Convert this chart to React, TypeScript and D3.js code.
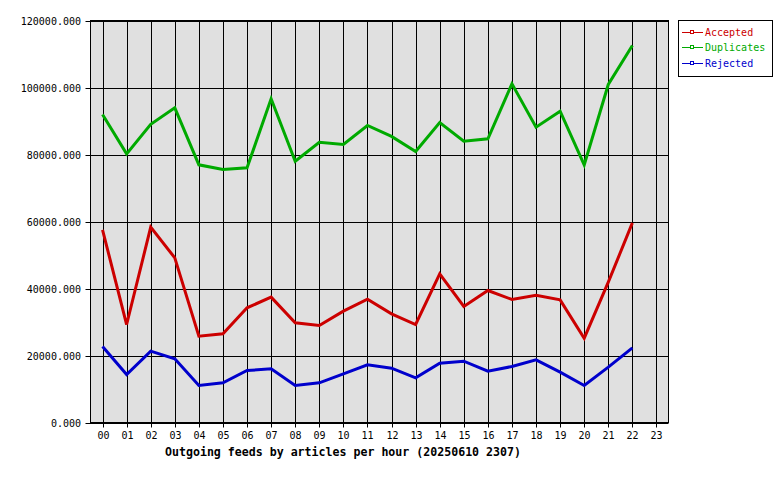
import React from "react";
import * as d3 from "d3";

const hours = ["00","01","02","03","04","05","06","07","08","09","10","11","12","13","14","15","16","17","18","19","20","21","22","23"];
const accepted = [57500, 29250, 58300, 49150, 25770, 26460, 34230, 37410, 29750, 28960, 33230, 36800, 32440, 29250, 44380, 34630, 39400, 36720, 38000, 36600, 25170, 41880, 59600];
const duplicates = [91940, 80200, 89000, 93940, 76920, 75520, 76030, 96620, 78000, 83670, 82990, 88660, 85400, 80900, 89550, 83980, 84680, 101100, 88150, 92920, 76900, 100900, 112540];
const rejected = [22690, 14330, 21290, 19000, 11040, 11840, 15520, 16020, 11040, 11840, 14530, 17210, 16220, 13330, 17710, 18300, 15320, 16720, 18700, 15020, 11040, 16520, 22290];
const yTicks = [0, 20000, 40000, 60000, 80000, 100000, 120000];
const seriesNames = ["Accepted", "Duplicates", "Rejected"];
const seriesColors = ["#cc0000", "#00aa00", "#0000cc"];
const title = "Outgoing feeds by articles per hour (20250610 2307)";

export default function App() {
  const W = 780, H = 480;
  const left = 90.5, right = 668.5, top = 20.5, bottom = 422.5;
  const x = d3.scaleLinear().domain([-0.5, 23.5]).range([left, right]);
  const y = d3.scaleLinear().domain([0, 120000]).range([bottom, top]);
  const line = d3.line<number>().x((_, i) => x(i)).y(d => y(d));
  const data = [accepted, duplicates, rejected];
  const font = "'DejaVu Sans Mono', monospace";
  return (
    <svg width={W} height={H} style={{ position: "absolute", left: 0, top: 0, background: "#fff" }}>
      <rect x={0} y={0} width={W} height={H} fill="#fff" />
      <rect x={left} y={top} width={right - left} height={bottom - top} fill="#e0e0e0" />
      {hours.map((h, i) => (
        <g key={h}>
          <line x1={Math.round(x(i)) + 0.5} x2={Math.round(x(i)) + 0.5} y1={top} y2={bottom + 5} stroke="#000" strokeWidth={1} />
          <text x={Math.round(x(i)) + 0.5} y={439} textAnchor="middle" fontFamily={font} fontSize={10} fill="#000">{h}</text>
        </g>
      ))}
      {yTicks.map(t => (
        <g key={t}>
          <line x1={left - 5} x2={right} y1={Math.round(y(t)) + 0.5} y2={Math.round(y(t)) + 0.5} stroke="#000" strokeWidth={1} />
          <text x={81} y={Math.round(y(t)) + 4} textAnchor="end" fontFamily={font} fontSize={10} fill="#000">{d3.format(".3f")(t)}</text>
        </g>
      ))}
      <rect x={left} y={top} width={right - left} height={bottom - top} fill="none" stroke="#000" strokeWidth={1} />
      {data.map((d, k) => (
        <path key={k} d={line(d) || ""} fill="none" stroke={seriesColors[k]} strokeWidth={3} strokeLinejoin="miter" />
      ))}
      <text x={165} y={456} fontFamily={font} fontSize={11.6} fontWeight="bold" fill="#000">{title}</text>
      <rect x={678.5} y={20.5} width={94} height={56} fill="#fff" stroke="#000" strokeWidth={1} />
      {seriesNames.map((n, k) => {
        const ly = 31.5 + k * 15.7;
        return (
          <g key={n}>
            <line x1={682} x2={703} y1={Math.round(ly) + 0.5} y2={Math.round(ly) + 0.5} stroke={seriesColors[k]} strokeWidth={1} />
            <rect x={690.5} y={Math.round(ly) - 1.5} width={3} height={3} fill="#fff" stroke={seriesColors[k]} strokeWidth={1} />
            <text x={705} y={Math.round(ly) + 4} fontFamily={font} fontSize={10} fill={seriesColors[k]}>{n}</text>
          </g>
        );
      })}
    </svg>
  );
}
